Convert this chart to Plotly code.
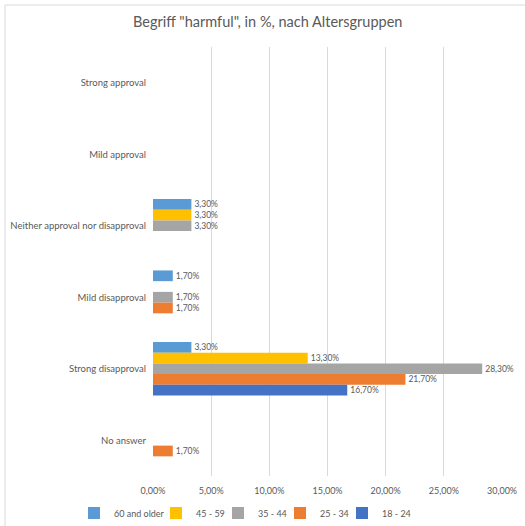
import plotly.graph_objects as go

categories = ["Strong approval", "Mild approval", "Neither approval nor disapproval",
              "Mild disapproval", "Strong disapproval", "No answer"]
series_names = ["60 and older", "45 - 59", "35 - 44", "25 - 34", "18 - 24"]
v_60_older = [None, None, 3.3, 1.7, 3.3, None]
v_45_59 = [None, None, 3.3, None, 13.3, None]
v_35_44 = [None, None, 3.3, 1.7, 28.3, None]
v_25_34 = [None, None, None, 1.7, 21.7, 1.7]
v_18_24 = [None, None, None, None, 16.7, None]
series_values = [v_60_older, v_45_59, v_35_44, v_25_34, v_18_24]
colors = ["#5B9BD5", "#FFC000", "#A5A5A5", "#ED7D31", "#4472C4"]
x_ticks = [0, 5, 10, 15, 20, 25, 30]
x_tick_labels = [f"{t:.2f}".replace(".", ",") + "%" for t in x_ticks]

FONT = "Lato, 'Open Sans', sans-serif"
GREY = "#595959"

W, H = 525, 526
ML, MR, MT, MB = 153, 23, 47, 50
pw, ph = W - ML - MR, H - MT - MB

# legend text start positions (px), close to the reference
legend_text_px = [114, 196, 258, 320, 382]
legend_ids = ["legend", "legend2", "legend3", "legend4", "legend5"]

fig = go.Figure()
for name, vals, col, lid in zip(series_names, series_values, colors, legend_ids):
    fig.add_trace(go.Bar(
        name=name, y=categories, x=vals, orientation="h",
        marker=dict(color=col, line=dict(width=0)),
        texttemplate="%{x:.2f}%", textposition="outside",
        textfont=dict(size=8.5, color=GREY, family=FONT),
        cliponaxis=False, legend=lid, showlegend=True,
    ))

def px_x(p):
    return (p - ML) / pw

def px_y(p):
    return (H - p - MB) / ph

legend_layouts = {}
for lid, tx in zip(legend_ids, legend_text_px):
    legend_layouts[lid] = dict(
        orientation="h", x=(tx - 40) / W, xref="container", xanchor="left",
        y=(H - 513) / H, yref="container", yanchor="middle",
        font=dict(size=9, color=GREY, family=FONT),
        itemwidth=30, bgcolor="rgba(0,0,0,0)", visible=True,
    )

fig.update_layout(
    width=W, height=H, showlegend=True,
    margin=dict(l=ML, r=MR, t=MT, b=MB, autoexpand=False),
    paper_bgcolor="white", plot_bgcolor="white",
    separators=",.",
    barmode="group", bargap=0.25, bargroupgap=0,
    font=dict(family=FONT, color=GREY, size=9),
    title=dict(text='Begriff "harmful", in %, nach Altersgruppen',
               x=0.51, xref="container", xanchor="center",
               y=1 - 22 / H, yref="container", yanchor="middle",
               font=dict(size=14.5, color=GREY, family=FONT)),
    xaxis=dict(range=[0, 30], tickvals=x_ticks, ticktext=x_tick_labels,
               showgrid=True, gridcolor="#D9D9D9", gridwidth=1, zeroline=False,
               showline=False, ticks="", automargin=False, ticklabelstandoff=8,
               tickfont=dict(size=9, color=GREY, family=FONT)),
    yaxis=dict(categoryorder="array", categoryarray=categories, autorange="reversed",
               showgrid=False, zeroline=False, showline=False, ticks="",
               ticklabelstandoff=6, automargin=False,
               tickfont=dict(size=9.5, color=GREY, family=FONT)),
    shapes=[dict(type="rect", xref="paper", yref="paper",
                 x0=px_x(5), x1=px_x(540), y0=px_y(540), y1=px_y(5),
                 line=dict(color="#D9D9D9", width=1), layer="below")],
    **legend_layouts,
)

fig.write_html("out.html", config={"displayModeBar": False},
               post_script="document.body.style.margin='0';document.body.style.overflow='hidden';")
